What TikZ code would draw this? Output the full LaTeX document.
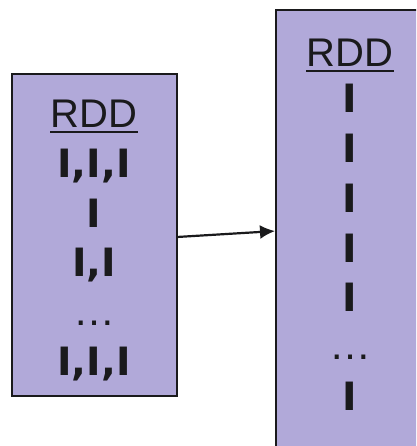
\documentclass[tikz,border=0pt]{standalone}
\usepackage{fontspec}
\setmainfont{Liberation Sans}
\newfontfamily\recfont{DejaVu Sans}
\usepackage{tikz}
\usetikzlibrary{
  arrows.meta,
  positioning
}
\definecolor{rddfill}{HTML}{B1A9D9}
\definecolor{ink}{HTML}{1a1a1c}
\tikzset{
  >=Latex,
  every node/.style={text=ink, inner sep=0pt, anchor=base},
  rddbox/.style={
    draw=ink,
    fill=rddfill,
    line width=2.4pt
  },
  rddtitle/.style={font=\fontsize{40}{42}\selectfont},
  rec/.style={font=\recfont\fontsize{39}{42}\selectfont\bfseries},
  gap/.style={font=\fontsize{42}{44}\selectfont},
  uline/.style={line width=2.2pt, draw=ink},
  arr/.style={-{Latex[length=15pt,width=14pt]}, line width=2.2pt, draw=ink, shorten >=1pt},
}

\begin{document}
\begin{tikzpicture}[x=1pt, y=-1pt]

  \useasboundingbox (0,0) rectangle (416,446);
  \clip (0,0) rectangle (416,446);

  % =====================================================================
  % LEFT RDD — records of mixed length
  % =====================================================================
  \draw[rddbox] (12,74) rectangle (177,396);
  \coordinate (lout) at (177,237);

  \node[rddtitle] (ltitle) at (94,128) {RDD};
  \draw[uline] ([yshift=-4pt]ltitle.base west) -- ([yshift=-4pt]ltitle.base east);

  \node[rec] (lrow1) at (94,178) {I,I,I};
  \node[rec] (lrow2) at (94,227) {I};
  \node[rec] (lrow3) at (94,276) {I,I};
  \node[gap] (lgap)  at (94,325) {\ldots};
  \node[rec] (lrow4) at (94,375) {I,I,I};

  % =====================================================================
  % RIGHT RDD — one record per line
  % =====================================================================
  \draw[rddbox] (276,10) rectangle (420,450);
  \coordinate (rin) at (276,231);

  \node[rddtitle] (rtitle) at (350,67) {RDD};
  \draw[uline] ([yshift=-4pt]rtitle.base west) -- ([yshift=-4pt]rtitle.base east);

  \foreach \i/\yy in {1/113, 2/163, 3/212, 4/262, 5/311} {
    \node[rec] (rrow\i) at (350,\yy) {I};
  }
  \node[gap] (rgap)  at (350,359) {\ldots};
  \node[rec] (rrow6) at (350,410) {I};

  % flatMap arrow between the two
  \draw[arr] (lout) -- (rin);

\end{tikzpicture}
\end{document}
